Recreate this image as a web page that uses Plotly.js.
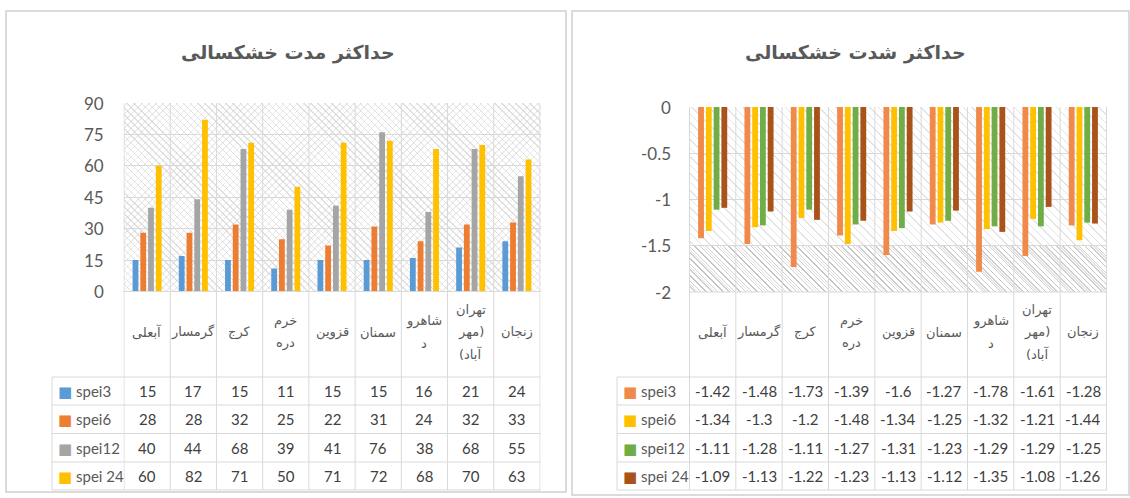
<!DOCTYPE html>
<html><head><meta charset="utf-8">
<script src="https://cdn.plot.ly/plotly-3.0.1.min.js"></script>
<style>
body{margin:0;background:#fff;}
#wrap{position:relative;width:1130px;height:498px;overflow:hidden;}
.hatch{position:absolute;}
#chart{position:absolute;left:0;top:0;width:1130px;height:498px;}
</style></head><body>
<div id="wrap">
<div class="hatch" id="h1"></div>
<div class="hatch" id="h2"></div>
<div class="hatch" id="h3"></div>
<div id="chart"></div>
</div>
<script>
// ---------- data ----------
const stations = ['آبعلی','گرمسار','کرج','خرم دره','قزوین','سمنان','شاهرود','تهران (مهرآباد)','زنجان'];
// wrapped label lines as shown in the table header (rendered right-to-left)
const stationLines = [['آبعلی'],['گرمسار'],['کرج'],['خرم','دره'],['قزوین'],['سمنان'],['شاهرو','د'],['تهران','مهر)','(آباد'],['زنجان']];
const seriesNames = ['spei3','spei6','spei12','spei 24'];

const durSpei3  = [15,17,15,11,15,15,16,21,24];
const durSpei6  = [28,28,32,25,22,31,24,32,33];
const durSpei12 = [40,44,68,39,41,76,38,68,55];
const durSpei24 = [60,82,71,50,71,72,68,70,63];

const sevSpei3  = [-1.42,-1.48,-1.73,-1.39,-1.6,-1.27,-1.78,-1.61,-1.28];
const sevSpei6  = [-1.34,-1.3,-1.2,-1.48,-1.34,-1.25,-1.32,-1.21,-1.44];
const sevSpei12 = [-1.11,-1.28,-1.11,-1.27,-1.31,-1.23,-1.29,-1.29,-1.25];
const sevSpei24 = [-1.09,-1.13,-1.22,-1.23,-1.13,-1.12,-1.35,-1.08,-1.26];

const durTicks = [0,15,30,45,60,75,90];
const sevTicks = [0,-0.5,-1,-1.5,-2];
const sevTickText = ['0','-0.5','-1','-1.5','-2'];

const titleDur = 'حداکثر مدت خشکسالی';
const titleSev = 'حداکثر شدت خشکسالی';

// ---------- style ----------
const W = 1130, H = 498;
const colorsDur = ['#5B9BD5','#ED7D31','#A5A5A5','#FFC000'];
const colorsSev = ['#F0894A','#FFC000','#70AD47','#A9521A'];
const gridC = '#D9D9D9';
const txt = '#595959';
const numFont = 'Lato, "DejaVu Sans", sans-serif';
const faFont = '"DejaVu Sans", sans-serif';

// pixel layout
const L = {x0:123.5, x1:540.5, y0:103, y1:291.5, legX0:52, legTextX:56, titleX:288, tickRight:106};
const R = {x0:689, x1:1107, y0:107, y1:292, legX0:617, legTextX:621, titleX:855, tickRight:673};
const rowLines = [377, 405, 433.5, 462, 490];
const catCenterY = 332, catLinePitch = 22;
const px = v => v / W;
const py = v => 1 - v / H;

// hatch backgrounds
function place(id, x, y, w, h, bg){
  const el = document.getElementById(id);
  el.style.left = x+'px'; el.style.top = y+'px'; el.style.width = w+'px'; el.style.height = h+'px';
  el.style.background = bg;
}
place('h1', L.x0, L.y0, L.x1-L.x0, L.y1-L.y0,
  'repeating-linear-gradient(45deg, rgba(200,200,200,0.55) 0 1px, transparent 1px 5px), repeating-linear-gradient(-45deg, rgba(215,215,215,0.45) 0 1px, transparent 1px 5px)');
place('h2', R.x0, R.y0, R.x1-R.x0, R.y1-R.y0,
  'repeating-linear-gradient(45deg, rgba(205,205,205,0.55) 0 1px, transparent 1px 6px)');
const yM15 = R.y0 + (R.y1-R.y0)*0.75;
place('h3', R.x0, yM15, R.x1-R.x0, R.y1-yM15,
  'repeating-linear-gradient(45deg, rgba(175,175,175,0.6) 0 1px, transparent 1px 4px)');

// ---------- traces ----------
const traces = [];
[durSpei3,durSpei6,durSpei12,durSpei24].forEach((vals,i)=>{
  traces.push({type:'bar', x:stations, y:vals, name:seriesNames[i], xaxis:'x', yaxis:'y',
    marker:{color:colorsDur[i]}, showlegend:false, hoverinfo:'y'});
});
[sevSpei3,sevSpei6,sevSpei12,sevSpei24].forEach((vals,i)=>{
  traces.push({type:'bar', x:stations, y:vals, name:seriesNames[i], xaxis:'x2', yaxis:'y2',
    marker:{color:colorsSev[i]}, showlegend:false, hoverinfo:'y'});
});

// ---------- shapes & annotations ----------
const shapes = [];
const ann = [];
const line = (o) => Object.assign({type:'line', layer:'above', line:{color:gridC, width:1}}, o);

// chart boxes
shapes.push({type:'rect', xref:'paper', yref:'paper', x0:px(6), x1:px(566), y0:py(11), y1:py(492), line:{color:'#D0D0D0', width:1.5}, layer:'below'});
shapes.push({type:'rect', xref:'paper', yref:'paper', x0:px(572), x1:px(1129), y0:py(11), y1:py(495), line:{color:'#D0D0D0', width:1.5}, layer:'below'});

function buildPanel(P, xa, ya, tickVals, tickText, dataSets, colors, fmt){
  // y tick labels
  tickVals.forEach((tv, k)=>{
    ann.push({xref:'paper', yref:ya, x:px(P.tickRight), y:tv, text:tickText[k], showarrow:false,
      xanchor:'right', yanchor:'middle', font:{family:numFont, size:17, color:txt}});
  });
  for(let i=0;i<=stations.length;i++){
    shapes.push(line({xref:xa, yref:'paper', x0:i-0.5, x1:i-0.5, y0:py(P.y0), y1:py(rowLines[rowLines.length-1]), layer:'below'}));
  }
  shapes.push(line({xref:'paper', yref:'paper', x0:px(P.x0), x1:px(P.x1), y0:py(P.y1), y1:py(P.y1)}));
  rowLines.forEach(yv=>{
    shapes.push(line({xref:'paper', yref:'paper', x0:px(P.legX0), x1:px(P.x1), y0:py(yv), y1:py(yv)}));
  });
  shapes.push(line({xref:'paper', yref:'paper', x0:px(P.legX0), x1:px(P.legX0), y0:py(rowLines[0]), y1:py(rowLines[rowLines.length-1])}));
  stationLines.forEach((lines, i)=>{
    const n = lines.length;
    lines.forEach((t, k)=>{
      const yc = catCenterY + (k - (n-1)/2)*catLinePitch;
      ann.push({xref:xa, yref:'paper', x:stations[i], y:py(yc), text:t, showarrow:false,
        xanchor:'center', yanchor:'middle', font:{family:faFont, size:13, color:txt}});
    });
  });
  dataSets.forEach((vals, r)=>{
    const yc = (rowLines[r] + rowLines[r+1]) / 2;
    ann.push({xref:'paper', yref:'paper', x:px(P.legTextX), y:py(yc), xanchor:'left', yanchor:'middle', showarrow:false,
      text:'<span style="color:'+colors[r]+'">■</span> '+seriesNames[r], font:{family:numFont, size:15, color:txt}});
    vals.forEach((v, i)=>{
      ann.push({xref:xa, yref:'paper', x:stations[i], y:py(yc), xanchor:'center', yanchor:'middle', showarrow:false,
        text:fmt(v), font:{family:numFont, size:15, color:'#404040'}});
    });
  });
}
buildPanel(L, 'x', 'y', durTicks, durTicks.map(String), [durSpei3,durSpei6,durSpei12,durSpei24], colorsDur, v=>String(v));
buildPanel(R, 'x2', 'y2', sevTicks, sevTickText, [sevSpei3,sevSpei6,sevSpei12,sevSpei24], colorsSev, v=>String(v));

// titles
ann.push({xref:'paper', yref:'paper', x:px(L.titleX), y:py(53), text:'<b>'+titleDur+'</b>', showarrow:false,
  xanchor:'center', yanchor:'middle', font:{family:faFont, size:19, color:txt}});
ann.push({xref:'paper', yref:'paper', x:px(R.titleX), y:py(53), text:'<b>'+titleSev+'</b>', showarrow:false,
  xanchor:'center', yanchor:'middle', font:{family:faFont, size:19, color:txt}});

const layout = {
  width:W, height:H,
  margin:{l:0, r:0, t:0, b:0},
  paper_bgcolor:'rgba(0,0,0,0)', plot_bgcolor:'rgba(0,0,0,0)',
  barmode:'group', bargap:0.33, bargroupgap:0.25,
  showlegend:false,
  xaxis:{domain:[px(L.x0), px(L.x1)], anchor:'y', type:'category', showticklabels:false, showgrid:false, zeroline:false, showline:false, ticks:''},
  yaxis:{domain:[py(L.y1), py(L.y0)], anchor:'x', range:[0,90], tickvals:durTicks, gridcolor:gridC, zeroline:false, showline:false,
    ticks:'', showticklabels:false},
  xaxis2:{domain:[px(R.x0), px(R.x1)], anchor:'y2', type:'category', showticklabels:false, showgrid:false, zeroline:false, showline:false, ticks:''},
  yaxis2:{domain:[py(R.y1), py(R.y0)], anchor:'x2', range:[-2,0], tickvals:sevTicks, gridcolor:gridC, zeroline:false, showline:false,
    ticks:'', showticklabels:false},
  shapes:shapes,
  annotations:ann
};
Plotly.newPlot('chart', traces, layout, {displayModeBar:false, staticPlot:true});
</script>
</body></html>
